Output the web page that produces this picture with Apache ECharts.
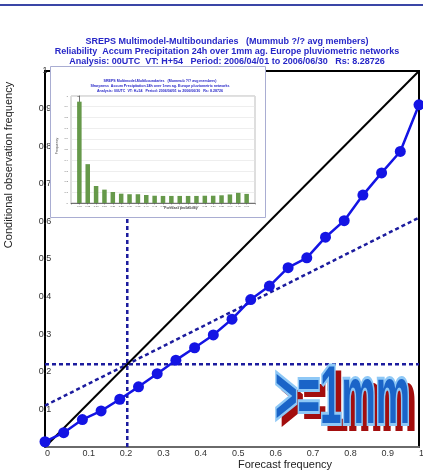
<!DOCTYPE html>
<html>
<head>
<meta charset="utf-8">
<script src="https://cdn.jsdelivr.net/npm/echarts@6/dist/echarts.min.js"></script>
<style>
  html, body { margin: 0; padding: 0; background: #fff; }
  #chart { width: 423px; height: 475px; }
</style>
</head>
<body>
<div id="chart"></div>
<script>
// Reliability diagram: forecast probability bins and observed frequencies
const forecastProb = [0, 0.05, 0.1, 0.15, 0.2, 0.25, 0.3, 0.35, 0.4, 0.45, 0.5,
                      0.55, 0.6, 0.65, 0.7, 0.75, 0.8, 0.85, 0.9, 0.95, 1];
const observedFreq = [0.014, 0.038, 0.073, 0.096, 0.127, 0.16, 0.195, 0.231, 0.264, 0.298, 0.34,
                      0.392, 0.428, 0.477, 0.503, 0.558, 0.602, 0.67, 0.729, 0.786, 0.91];
// Sharpness histogram (relative frequency of forecasts per bin)
const sharpness = [0.947, 0.363, 0.159, 0.125, 0.103, 0.087, 0.082, 0.082, 0.075, 0.068, 0.066,
                   0.066, 0.066, 0.066, 0.066, 0.068, 0.068, 0.072, 0.08, 0.095, 0.085];
// Sample climatology and no-skill line end points
const climatology = 0.22;
const noSkillLine = [[0, 0.11], [1, 0.61]];
const diagonal = [[0, 0], [1, 1]];
const axisTicks = ['0', '0.1', '0.2', '0.3', '0.4', '0.5', '0.6', '0.7', '0.8', '0.9', '1'];

const titleLines = [
  'SREPS Multimodel-Multiboundaries   (Mummub ?/? avg members)',
  'Reliability  Accum Precipitation 24h over 1mm ag. Europe pluviometric networks',
  'Analysis: 00UTC  VT: H+54   Period: 2006/04/01 to 2006/06/30   Rs: 8.28726'
];
const insetTitleLines = [
  'SREPS Multimodel-Multiboundaries   (Mummub ?/? avg members)',
  'Sharpness  Accum Precipitation 24h over 1mm ag. Europe pluviometric networks',
  'Analysis: 00UTC  VT: H+54   Period: 2006/04/01 to 2006/06/30   Rs: 8.28726'
];

const chart = echarts.init(document.getElementById('chart'), null, { renderer: 'canvas' });

const titleBlue = '#2727c8';
const dotBlue = '#1c1c9e';
const font = 'Liberation Sans, Arial, sans-serif';

const reliabilityData = forecastProb.map((p, i) => [p, observedFreq[i]]);
const sharpnessData = forecastProb.map((p, i) => [p, sharpness[i]]);
const tickLabel = v => axisTicks[Math.round(v * 10)];
const insetTick = v => (v < -1e-9 || v > 1 + 1e-9) ? '' : v.toFixed(2);

const graphics = [
  { type: 'rect', shape: { x: 0, y: 4, width: 423, height: 2 }, style: { fill: '#3a46a6' }, z: 1 },
  ...titleLines.map((t, i) => ({
    type: 'text', x: 227, y: 42 + i * 10, z: 1,
    style: { text: t, fill: titleBlue, font: 'bold 9px ' + font, textAlign: 'center', textVerticalAlign: 'middle' }
  })),
  {
    type: 'text', x: 9, y: 165, rotation: Math.PI / 2, z: 1,
    style: { text: 'Conditional observation frequency', fill: '#222', font: '11px ' + font,
             textAlign: 'center', textVerticalAlign: 'middle' }
  },
  {
    type: 'text', x: 285, y: 465, z: 1,
    style: { text: 'Forecast frequency', fill: '#222', font: '11px ' + font,
             textAlign: 'center', textVerticalAlign: 'middle' }
  },
  // inset panel with the sharpness histogram
  {
    type: 'rect', shape: { x: 50.5, y: 66.5, width: 215, height: 151 }, z: 50,
    style: { fill: '#fff', stroke: '#a9add2', lineWidth: 1 }
  },
  ...insetTitleLines.map((t, i) => ({
    type: 'text', x: 160, y: 81 + i * 5, z: 60,
    style: { text: t, fill: titleBlue, font: 'bold 3.6px ' + font, textAlign: 'center', textVerticalAlign: 'middle' }
  })),
  {
    type: 'text', x: 57, y: 146, rotation: Math.PI / 2, z: 60,
    style: { text: 'Frequency', fill: '#444', font: '3.5px ' + font, textAlign: 'center', textVerticalAlign: 'middle' }
  },
  {
    type: 'text', x: 181, y: 208, z: 60,
    style: { text: 'Forecast probability', fill: '#444', font: 'bold 3.5px ' + font, textAlign: 'center', textVerticalAlign: 'middle' }
  },
  // threshold badge
  {
    type: 'text', x: 281, y: 406, scaleX: 0.47, z: 70,
    style: { text: '>=1mm', fill: '#a30e0e', stroke: '#a30e0e', lineWidth: 4, font: 'bold 82px ' + font,
             textAlign: 'left', textVerticalAlign: 'middle' }
  },
  {
    type: 'text', x: 275, y: 400, scaleX: 0.47, z: 71,
    style: { text: '>=1mm', fill: '#1a64c8', stroke: '#8ec8f6', lineWidth: 6, strokeFirst: true,
             font: 'bold 82px ' + font, textAlign: 'left', textVerticalAlign: 'middle' }
  }
];

const option = {
  animation: false,
  backgroundColor: '#fff',
  grid: [
    { left: 45, right: 4, top: 71, bottom: 28, show: true, borderColor: '#000', borderWidth: 2,
      backgroundColor: 'transparent', containLabel: false, outerBoundsMode: 'none' },
    { left: 71, top: 96, width: 184, height: 107, show: true, borderColor: '#bdbdbd', borderWidth: 1,
      backgroundColor: '#fff', z: 60, containLabel: false, outerBoundsMode: 'none' }
  ],
  xAxis: [
    {
      gridIndex: 0, type: 'value', min: 0, max: 1, interval: 0.1,
      axisLine: { show: true, lineStyle: { color: '#6a6a6a', width: 2 } },
      axisTick: { show: false }, splitLine: { show: false },
      axisLabel: { formatter: tickLabel, align: 'left', margin: 2, color: '#333', fontSize: 9, fontFamily: font }
    },
    {
      gridIndex: 1, type: 'value', min: -0.05, max: 1.05, interval: 0.05, z: 60,
      axisLine: { lineStyle: { color: '#555', width: 0.8 } },
      axisTick: { show: true, length: 1.5, lineStyle: { color: '#555', width: 0.5 } },
      splitLine: { show: false },
      axisLabel: { formatter: insetTick, color: '#555', fontSize: 2.5, margin: 2, fontFamily: font }
    }
  ],
  yAxis: [
    {
      gridIndex: 0, type: 'value', min: 0, max: 1, interval: 0.1,
      axisLine: { show: true, lineStyle: { color: '#000', width: 1.5 } },
      axisTick: { show: false }, splitLine: { show: false },
      axisLabel: { formatter: tickLabel, align: 'center', margin: 0, showMinLabel: false,
                   color: '#333', fontSize: 9, fontFamily: font }
    },
    {
      gridIndex: 1, type: 'value', min: 0, max: 1, interval: 0.1, z: 60,
      axisLine: { show: true, lineStyle: { color: '#555', width: 0.8 } },
      axisTick: { show: true, length: 2, lineStyle: { color: '#555', width: 0.5 } },
      splitLine: { show: true, lineStyle: { color: '#e2e2e2', width: 0.6 } },
      axisLabel: { color: '#555', fontSize: 2.5, margin: 3, fontFamily: font }
    }
  ],
  series: [
    {
      type: 'line', xAxisIndex: 0, yAxisIndex: 0, data: diagonal, symbol: 'none', z: 3,
      lineStyle: { color: '#000', width: 2 }
    },
    {
      type: 'line', xAxisIndex: 0, yAxisIndex: 0, data: [[0, climatology], [1, climatology]], symbol: 'none', z: 2,
      lineStyle: { color: dotBlue, width: 2.5, type: [4, 3] }
    },
    {
      type: 'line', xAxisIndex: 0, yAxisIndex: 0, data: [[climatology, 0], [climatology, 1]], symbol: 'none', z: 2,
      lineStyle: { color: dotBlue, width: 2.5, type: [4, 3] }
    },
    {
      type: 'line', xAxisIndex: 0, yAxisIndex: 0, data: noSkillLine, symbol: 'none', z: 2,
      lineStyle: { color: dotBlue, width: 2.5, type: [4, 3] }
    },
    {
      type: 'line', xAxisIndex: 0, yAxisIndex: 0, data: reliabilityData, z: 4,
      symbol: 'circle', symbolSize: 11,
      itemStyle: { color: '#1414e4' },
      lineStyle: { color: '#1414e4', width: 2.5 }
    },
    {
      type: 'bar', xAxisIndex: 1, yAxisIndex: 1, data: sharpnessData, z: 62, barWidth: 4.5,
      itemStyle: { color: '#66994a' }
    }
  ],
  graphic: graphics
};

chart.setOption(option);
</script>
</body>
</html>
